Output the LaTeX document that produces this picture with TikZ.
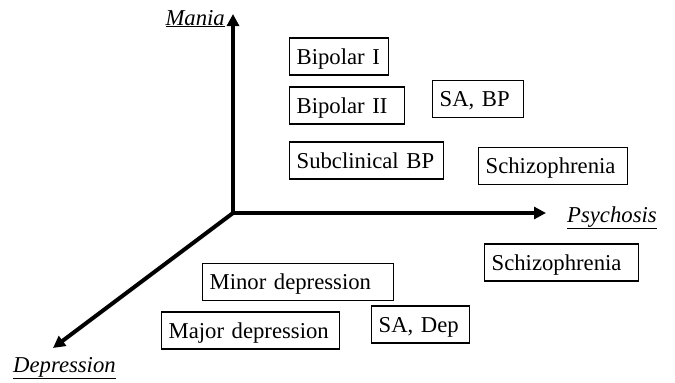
\documentclass[tikz,border=0pt]{standalone}
\usepackage{fontspec}
\setmainfont{Liberation Serif}
\usepackage{tikz}
\usetikzlibrary{arrows.meta}

\tikzset{
    axis/.style={line width=4pt, -{Triangle[length=12pt,width=12pt]}},
    box/.style={draw, line width=1.3pt, inner xsep=7pt, inner ysep=0pt,
        text height=26pt, text depth=11pt, text width=#1, align=left, anchor=west},
    axislabel/.style={inner sep=0pt, font=\fontsize{22.7}{27}\selectfont\itshape}
}

\begin{document}
\begin{tikzpicture}[x=1pt, y=-1pt, font=\fontsize{22.7}{27}\selectfont]
    \useasboundingbox (0,0) rectangle (675,383);

    % Axes
    \coordinate (origin) at (233,213);
    \coordinate (maniatip) at (233,14);
    \coordinate (psychtip) at (546,213);
    \coordinate (deptip) at (53,348);
    \draw[axis] (origin) -- (maniatip);
    \draw[axis] (origin) -- (psychtip);
    \draw[axis] (origin) -- (deptip);

    % Axis labels
    \node[axislabel, anchor=base east] (mania) at (225,25) {\underline{Mania}};
    \node[axislabel, anchor=base west] (psychosis) at (567,222) {\underline{Psychosis}};
    \node[axislabel, anchor=base west] (depression) at (13,372) {\underline{Depression}};

    % Bipolar side
    \node[box=85pt] (bipI) at (289,56.5) {Bipolar I};
    \node[box=101pt] (bipII) at (289,105.5) {Bipolar II};
    \node[box=77pt] (sabp) at (432,99) {SA, BP};
    \node[box=140pt] (subbp) at (289,160.5) {Subclinical BP};
    \node[box=135pt] (schizup) at (478,166) {Schizophrenia};

    % Depression side
    \node[box=140pt] (schizlow) at (484,262.5) {Schizophrenia};
    \node[box=177pt] (minor) at (202,282) {Minor depression};
    \node[box=164pt] (major) at (161,330.5) {Major depression};
    \node[box=84pt] (sadep) at (371,324.5) {SA, Dep};
\end{tikzpicture}
\end{document}
